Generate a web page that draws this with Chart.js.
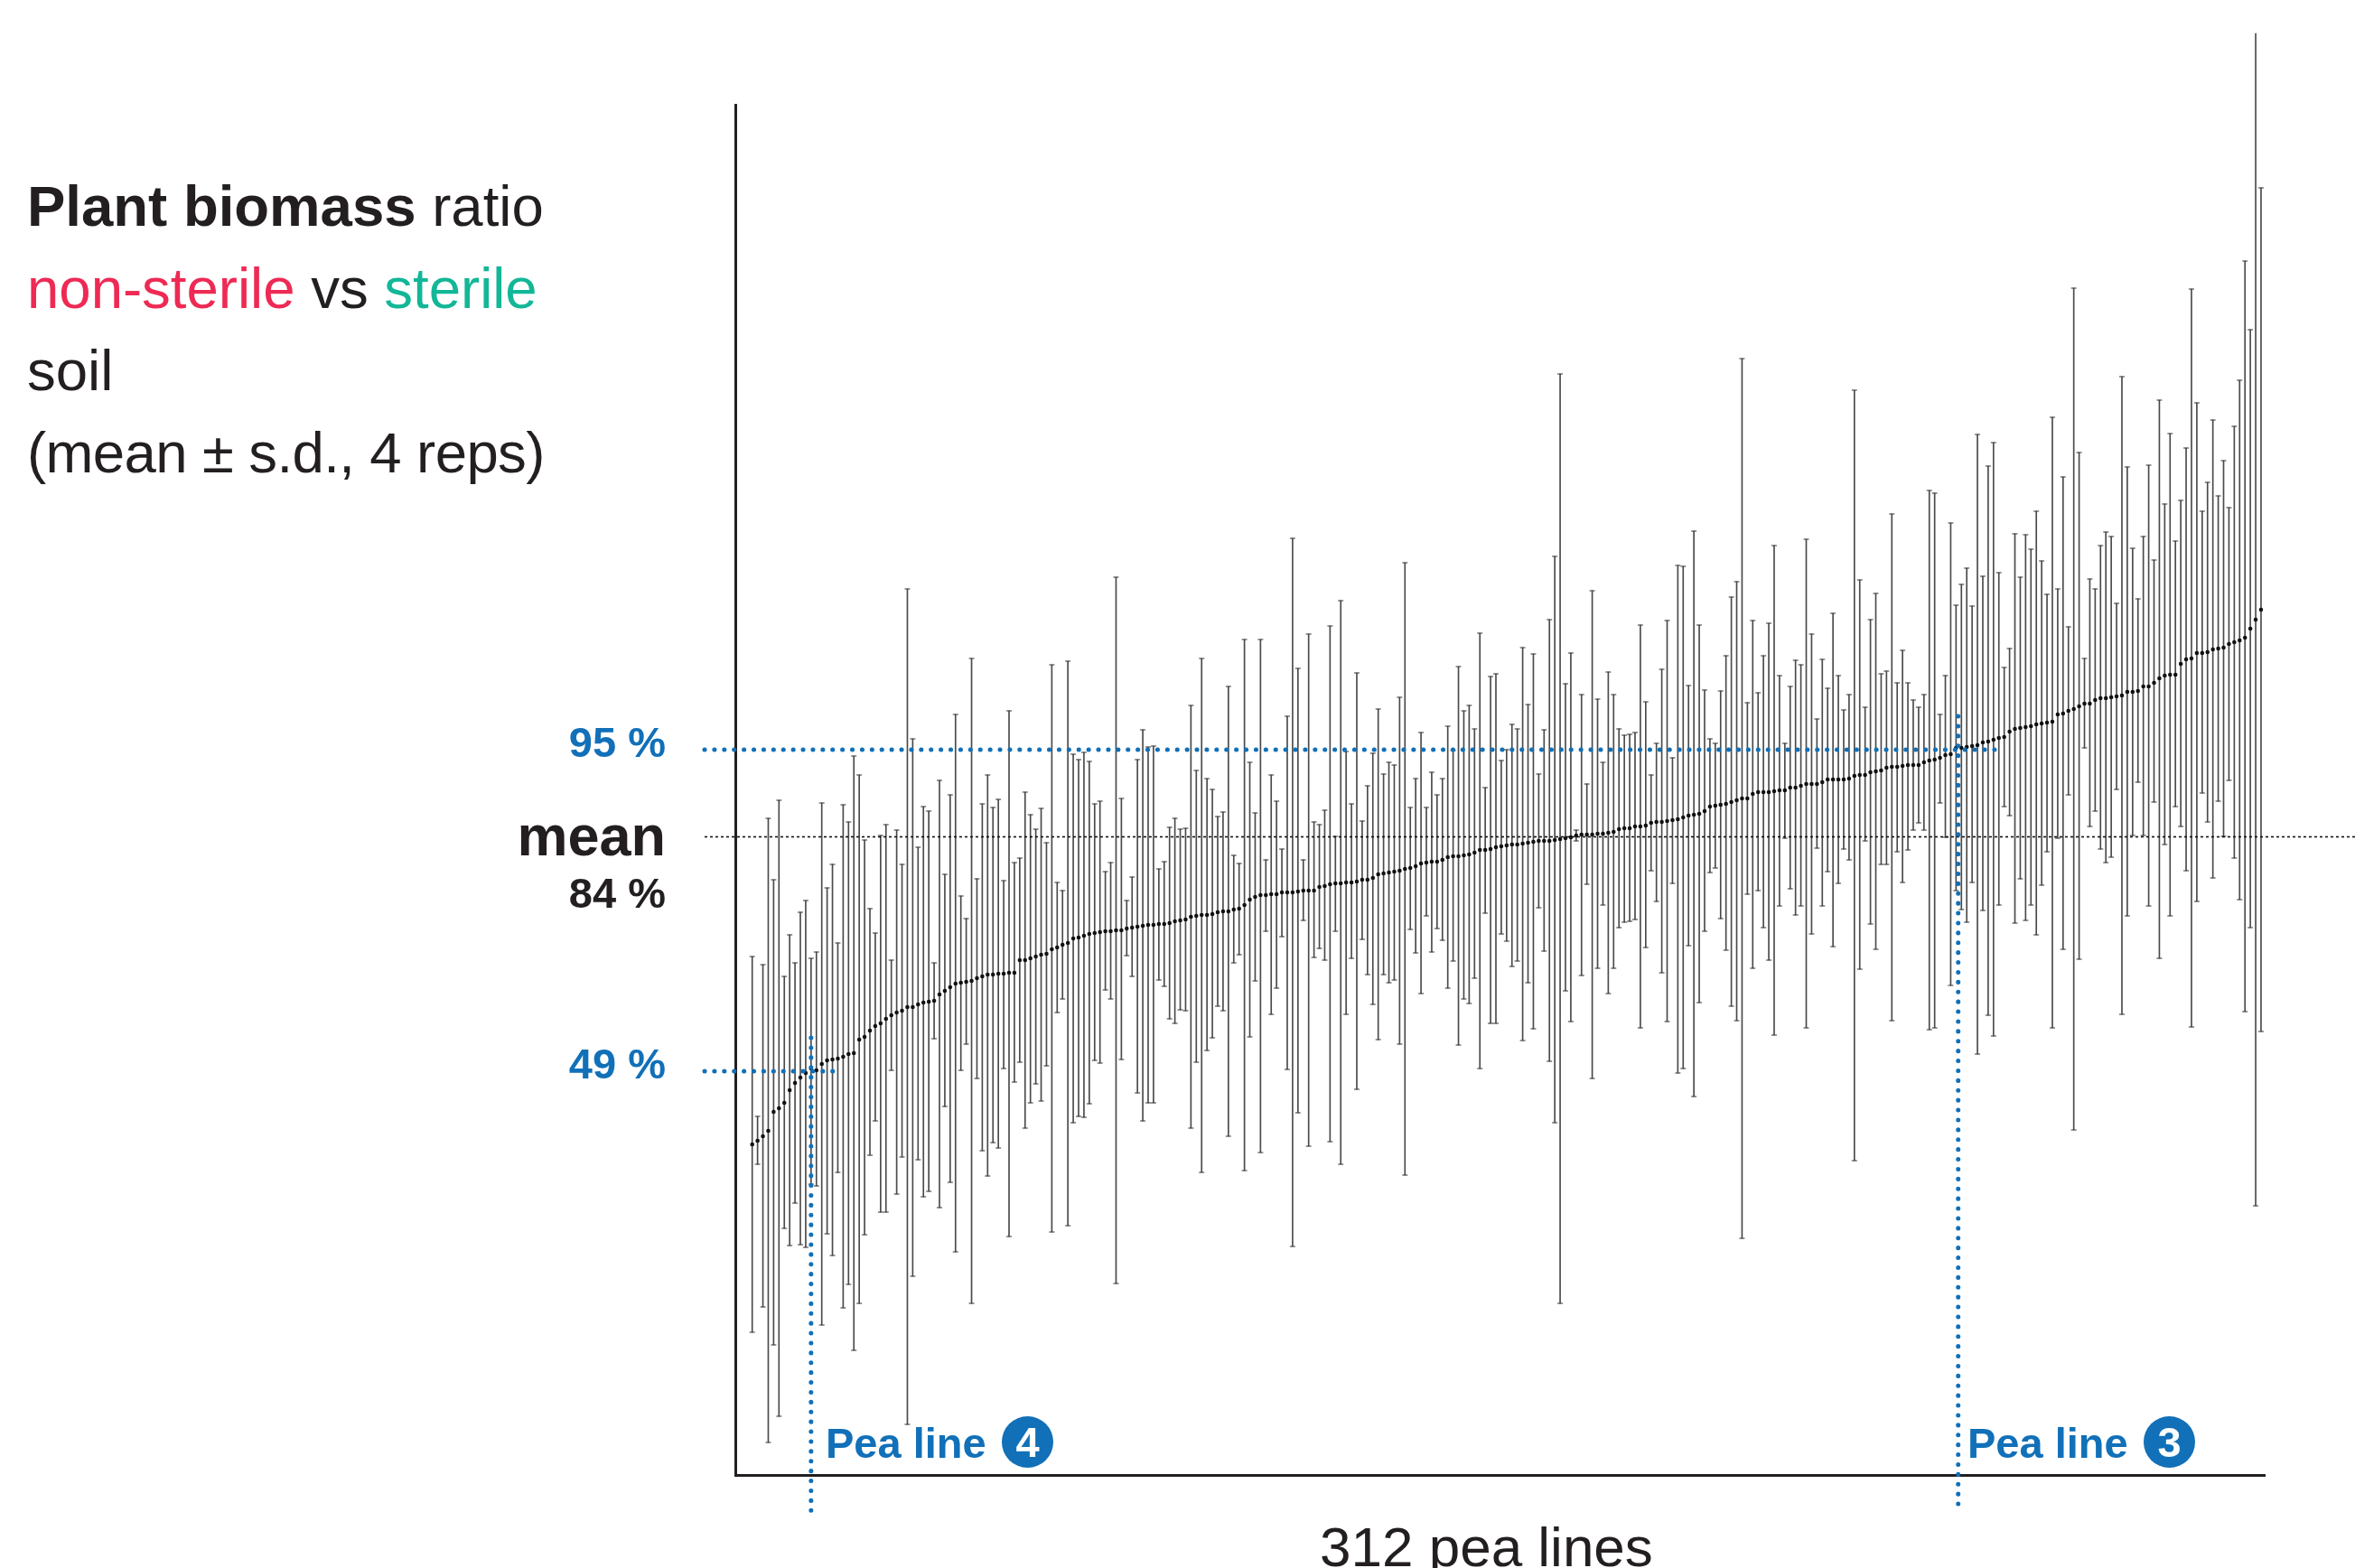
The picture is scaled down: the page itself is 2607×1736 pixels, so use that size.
<!DOCTYPE html>
<html><head><meta charset="utf-8">
<script src="https://cdn.jsdelivr.net/npm/chart.js@4"></script>
<style>
html,body{margin:0;padding:0;background:#fff;width:2607px;height:1736px;overflow:hidden}
#wrap{position:relative;width:2607px;height:1736px;overflow:hidden;font-family:"Liberation Sans",Arial,sans-serif;color:#231f20}
canvas{position:absolute;left:0;top:0}
.t{position:absolute;line-height:1;white-space:nowrap}
.c{position:absolute;width:57px;height:57px;border-radius:50%;background:#1170b8;color:#fff;font-weight:bold;font-size:47px;line-height:57px;text-align:center}
</style></head><body><div id="wrap">
<canvas id="c" width="2607" height="1736"></canvas>
<div class="t" style="left:30px;top:197px;font-size:63.5px"><b>Plant biomass</b> ratio</div>
<div class="t" style="left:30px;top:288px;font-size:63.5px"><span style="color:#ee2a54">non-sterile</span> vs <span style="color:#12b797">sterile</span></div>
<div class="t" style="left:30px;top:379px;font-size:63.5px">soil</div>
<div class="t" style="left:30px;top:470px;font-size:63.5px;letter-spacing:-0.6px">(mean ± s.d., 4 reps)</div>
<div class="t" style="right:1870px;top:798px;font-size:47px;font-weight:bold;color:#1170b8">95 %</div>
<div class="t" style="right:1870px;top:894px;font-size:63px;font-weight:bold">mean</div>
<div class="t" style="right:1870px;top:965px;font-size:47px;font-weight:bold">84 %</div>
<div class="t" style="right:1870px;top:1154px;font-size:47px;font-weight:bold;color:#1170b8">49 %</div>
<div class="t" style="left:914px;top:1574px;font-size:47px;font-weight:bold;color:#1170b8">Pea line</div>
<div class="c" style="left:1109px;top:1568px">4</div>
<div class="t" style="left:2178px;top:1574px;font-size:47px;font-weight:bold;color:#1170b8">Pea line</div>
<div class="c" style="left:2373px;top:1568px">3</div>
<div class="t" style="left:1461px;top:1682px;font-size:62px">312 pea lines</div>
</div>
<script>
// Values, in axis units (the source has no numbered axis).
const means=[36.6,37.0,37.5,38.1,40.2,40.6,41.2,42.6,43.4,44.0,44.5,45.0,44.8,45.5,45.9,46.0,46.1,46.3,46.6,46.7,48.2,48.5,49.2,49.7,50.0,50.5,50.9,51.2,51.4,51.8,51.8,52.1,52.3,52.4,52.5,53.2,53.6,54.0,54.4,54.5,54.6,54.7,55.0,55.2,55.4,55.4,55.5,55.5,55.6,55.6,57.0,57.0,57.2,57.4,57.6,57.7,58.2,58.4,58.7,58.9,59.4,59.5,
59.7,59.9,60.0,60.1,60.2,60.2,60.3,60.3,60.5,60.6,60.7,60.8,60.9,60.9,61.0,61.0,61.1,61.3,61.4,61.5,61.8,61.9,62.0,62.0,62.1,62.3,62.4,62.4,62.6,62.7,63.1,63.7,64.0,64.2,64.2,64.3,64.3,64.5,64.5,64.5,64.6,64.7,64.7,64.7,65.1,65.2,65.4,65.5,65.5,65.6,65.6,65.7,65.9,65.9,66.1,66.5,66.6,66.7,66.8,66.9,67.1,67.2,67.4,67.7,67.8,67.9,67.9,68.1,68.4,68.5,68.5,68.6,68.7,68.9,69.2,69.2,69.3,
69.5,69.6,69.7,69.8,69.8,69.9,70.0,70.1,70.2,70.2,70.2,70.3,70.4,70.5,70.6,70.8,70.9,70.9,70.9,71.0,71.0,71.1,71.2,71.5,71.6,71.6,71.8,71.8,71.9,72.2,72.3,72.3,72.4,72.5,72.6,72.8,73.0,73.1,73.2,73.5,74.0,74.1,74.2,74.3,74.5,74.7,74.9,74.9,75.4,75.6,75.6,75.6,75.7,75.8,75.8,76.1,76.1,76.3,76.5,76.5,76.5,76.7,77.0,77.0,77.0,77.0,77.1,77.4,77.5,77.5,77.8,77.9,78.0,78.3,78.4,78.4,
78.5,78.6,78.6,78.6,78.9,79.1,79.2,79.4,79.7,79.8,80.5,80.5,80.6,80.7,80.8,81.1,81.2,81.4,81.6,81.7,82.3,82.6,82.7,82.8,82.9,83.1,83.2,83.3,83.4,84.2,84.3,84.6,84.8,85.1,85.4,85.4,85.8,86.0,86.0,86.1,86.2,86.3,86.7,86.7,86.8,87.3,87.3,87.7,88.2,88.5,88.6,88.6,89.8,90.3,90.4,91.0,91.0,91.1,91.4,91.5,91.6,92.0,92.2,92.4,92.7,93.7,94.7,95.8];
const uppers=[57.4,39.7,56.5,72.7,65.9,74.7,55.2,59.8,56.7,62.3,63.6,57.2,57.9,74.4,65.0,67.6,58.9,74.2,72.3,79.6,77.5,70.3,62.7,60.0,70.8,72.0,57.0,71.4,67.6,98.1,81.5,69.5,74.0,73.5,56.7,76.9,66.5,75.3,84.2,64.1,61.6,90.4,66.0,74.3,77.5,73.9,74.8,65.8,84.6,67.8,68.3,75.6,73.1,71.5,73.8,70.0,89.7,65.6,64.7,90.1,79.8,79.2,
80.0,79.0,74.3,74.6,66.8,67.8,99.4,74.9,63.6,66.2,79.2,82.5,80.6,80.7,67.1,67.9,71.7,72.7,71.5,71.6,85.2,78.0,90.4,77.1,75.9,72.9,73.4,87.3,68.6,67.7,92.5,78.9,73.3,92.5,68.1,77.5,74.6,69.3,84.0,103.7,89.3,68.1,93.1,72.3,72.0,73.6,94.0,70.7,96.8,80.1,74.3,88.8,72.4,76.3,79.9,84.8,77.6,78.9,78.6,86.1,101.0,73.9,77.1,82.2,73.9,77.8,75.3,77.1,82.9,80.2,89.5,84.6,85.2,82.6,93.2,76.1,88.4,
88.7,79.1,80.3,83.1,82.6,91.6,85.3,90.9,77.6,82.5,94.7,101.7,121.9,87.6,91.0,71.4,86.4,76.5,97.9,85.9,78.9,88.9,86.4,82.6,81.9,82.0,82.2,94.1,85.6,77.5,81.0,89.2,94.6,79.4,100.7,100.6,87.4,104.5,94.1,86.9,81.5,81.0,86.8,90.7,97.2,98.9,123.6,85.5,94.6,86.6,90.7,94.3,102.9,88.5,81.0,87.3,90.2,89.7,103.6,93.1,83.7,90.3,87.1,95.4,88.5,84.7,86.4,120.1,99.1,85.0,94.7,97.6,88.7,89.0,106.4,87.7,
91.3,87.7,85.8,85.0,86.4,109.0,108.7,84.2,88.5,105.4,96.3,98.6,100.4,96.2,115.2,99.5,111.7,114.3,99.9,89.4,91.5,104.2,99.4,104.1,102.5,106.7,101.2,97.5,117.1,98.1,110.5,93.9,131.4,113.2,90.4,99.2,98.1,102.9,104.4,103.9,96.5,121.6,111.6,102.6,97.0,103.9,111.8,101.3,119.0,107.5,115.3,103.4,107.9,113.7,131.3,118.7,106.7,109.9,116.8,108.4,112.3,107.1,116.1,121.2,134.4,126.8,159.6,142.5];
const lowers=[15.8,34.4,18.6,3.6,14.4,6.5,27.3,25.4,30.1,25.5,25.2,32.2,32.0,16.6,26.7,24.3,33.5,18.5,21.1,13.8,19.0,26.6,35.4,39.2,29.1,29.1,44.8,31.1,35.2,5.6,22.0,34.9,30.8,31.4,48.3,29.6,40.8,32.4,24.7,44.8,47.7,19.0,43.9,35.9,33.1,36.8,36.2,45.0,26.4,43.5,45.7,38.4,41.2,43.3,41.4,45.3,26.9,51.2,52.7,27.6,39.0,39.7,
39.6,41.1,45.9,45.6,53.7,52.7,21.2,46.0,57.5,55.2,42.3,39.2,41.2,41.2,54.8,54.1,50.5,50.0,51.5,51.4,38.4,45.7,33.5,47.0,48.4,51.9,51.4,37.5,56.7,57.6,33.7,48.5,54.7,35.7,60.2,51.0,53.9,59.6,44.9,25.3,40.1,61.4,36.4,57.3,58.3,57.0,36.9,60.2,34.4,51.0,57.2,42.7,59.3,55.4,52.1,48.2,55.4,54.5,54.8,47.7,33.2,60.4,57.8,53.3,61.9,57.9,60.5,59.2,53.9,56.9,47.6,52.7,52.2,55.0,45.0,62.2,50.0,
50.0,59.9,59.1,56.3,56.9,48.1,54.5,49.4,62.8,58.0,45.8,39.0,19.0,53.6,50.2,70.2,55.3,65.4,43.9,56.1,63.1,53.3,56.1,60.6,61.2,61.3,61.5,49.5,58.4,66.9,63.5,55.6,50.2,65.5,44.5,45.0,58.6,41.9,52.3,60.2,66.7,67.2,61.6,58.1,51.9,50.3,26.2,64.3,56.1,64.7,60.6,57.0,48.7,63.0,70.5,64.9,62.0,63.0,49.5,59.9,69.4,63.0,66.8,58.5,65.5,69.3,68.1,34.8,56.0,70.2,61.0,58.2,67.6,67.6,50.3,69.0,
65.6,69.2,71.4,72.2,71.4,49.3,49.5,74.4,70.6,54.2,64.7,62.6,61.2,65.6,46.6,62.5,50.9,48.6,63.1,74.0,73.0,61.1,66.0,61.4,63.1,59.8,65.3,69.0,49.5,70.5,58.2,75.3,38.2,57.1,80.5,71.8,73.5,69.3,67.8,68.4,75.9,51.0,61.9,70.8,76.7,70.8,63.0,74.5,57.2,69.8,61.9,74.0,71.8,66.9,49.6,63.5,75.5,72.3,66.1,74.6,70.7,76.9,68.3,63.7,51.3,60.6,29.8,49.1];
// Reference levels (axis units) and pea-line positions (line rank)
const level95=80.3, levelMean=70.65, level49=44.7;
const peaLine4=11.0, peaLine3=225.4;
const xLeftEdge=-8.9, xRightEdge=299.6, xEnd95=232.5, xEnd49=16.3, yBelowAxis=-4.1, yTop4=48.4, yTop3=84.0;

const BLUE='#1170b8', BAR='#4a4a4a', CAP='#333333';
const n=Math.min(means.length,uppers.length,lowers.length);
const idx=[...Array(n).keys()];
const blueLine=(pts)=>({type:'line',data:pts,borderColor:BLUE,borderWidth:5,borderDash:[0.1,10.8],borderCapStyle:'round',pointRadius:0,clip:false,order:0,parsing:false,tension:0});
new Chart(document.getElementById('c'),{
 data:{datasets:[
  {type:'bar',data:idx.map(i=>({x:i,y:[lowers[i],uppers[i]]})),backgroundColor:BAR,barThickness:1,grouped:false,borderWidth:0,clip:false,order:5},
  {type:'scatter',data:idx.map(i=>({x:i,y:uppers[i]})),pointStyle:'line',pointRadius:3,borderColor:CAP,pointBorderColor:CAP,pointBorderWidth:1,clip:false,order:4},
  {type:'scatter',data:idx.map(i=>({x:i,y:lowers[i]})),pointStyle:'line',pointRadius:3,borderColor:CAP,pointBorderColor:CAP,pointBorderWidth:1,clip:false,order:4},
  {type:'line',data:[{x:xLeftEdge,y:levelMean},{x:xRightEdge,y:levelMean}],borderColor:'#111',borderWidth:1.6,borderDash:[3,3],pointRadius:0,clip:false,order:3,parsing:false},
  {type:'scatter',data:idx.map(i=>({x:i,y:means[i]})),pointStyle:'circle',pointRadius:2.3,backgroundColor:'#111',pointBackgroundColor:'#111',pointBorderWidth:0,clip:false,order:2},
  blueLine([{x:xLeftEdge,y:level95},{x:xEnd95,y:level95}]),
  blueLine([{x:xLeftEdge,y:level49},{x:xEnd49,y:level49}]),
  blueLine([{x:peaLine4,y:yTop4},{x:peaLine4,y:yBelowAxis}]),
  blueLine([{x:peaLine3,y:yTop3},{x:peaLine3,y:yBelowAxis}])
 ]},
 options:{
  responsive:false,animation:false,devicePixelRatio:1,
  layout:{padding:{left:814,right:100,top:116,bottom:103}},
  plugins:{legend:{display:false},tooltip:{enabled:false},title:{display:false}},
  scales:{
   x:{type:'linear',min:-3.157,max:282.68,offset:false,ticks:{display:false},grid:{display:false,drawTicks:false},border:{display:true,color:'#231f20',width:3}},
   y:{type:'linear',min:0,max:151.7,ticks:{display:false},grid:{display:false,drawTicks:false},border:{display:true,color:'#231f20',width:3}}
  }
 }
});
</script></body></html>
